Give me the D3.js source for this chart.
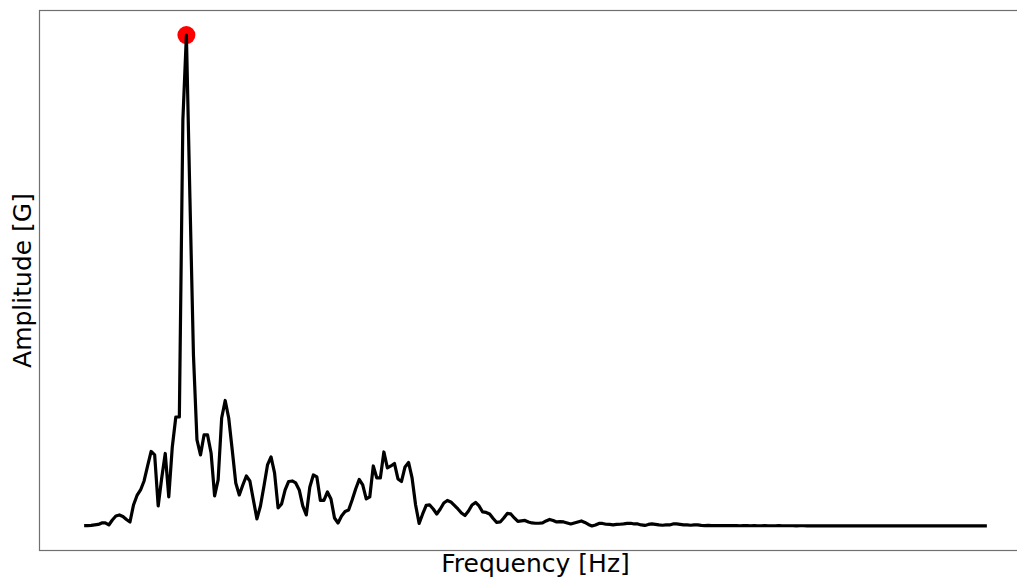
<!DOCTYPE html>
<html>
<head>
<meta charset="utf-8">
<script src="https://cdn.jsdelivr.net/npm/d3@7"></script>
<style>
  html, body { margin: 0; padding: 0; background: #fff; }
  svg { display: block; }
</style>
</head>
<body>
<div id="chart"></div>
<script>
// FFT amplitude per frequency bin (bin index = frequency step)
const amplitude = [
  0.3, 0.3, 0.5, 1, 1.5, 3, 3, 1, 6, 10,
  11, 9.5, 6.5, 4, 21, 30.5, 36, 45, 60, 74.5,
  71, 20, 48, 72.5, 29, 79, 109, 109, 406, 491,
  328, 171, 86, 71, 91, 91, 73, 30, 46, 108,
  125.5, 108, 76, 43, 31, 41, 50, 45, 26, 7,
  20, 40, 61, 69, 53, 18, 22, 36, 44.5, 45,
  43, 36, 20, 11, 39, 51, 49, 25.5, 25.5, 34,
  27, 8, 3, 10, 14.5, 16, 26, 37, 46.5, 41,
  27, 29, 60, 48, 48, 74, 58, 60, 62.5, 47,
  44.5, 59, 63.5, 48, 21, 2.5, 12, 20.5, 21, 17,
  12, 17, 23, 25.5, 24, 20.5, 17, 13, 10.5, 15,
  21, 23.5, 20, 14, 13.5, 12, 7.5, 3.5, 4, 8,
  12.5, 12, 8, 4.5, 5, 5.5, 4, 3, 2.7, 2.7,
  3, 5, 6.5, 5.5, 4, 4.3, 4, 3, 2, 3,
  4, 5, 3.5, 1.5, 0, 1, 2.5, 2.5, 1.7, 1.5,
  1, 1.5, 1.7, 2, 2.5, 2.7, 2, 2, 1, 0.5,
  1.5, 2, 1.5, 1, 0.7, 1, 1, 2, 2, 1.5,
  1, 1, 0.7, 1, 1, 0.5, 0.4, 0.5, 0.4, 0.3,
  0.4, 0.3, 0.3, 0.4, 0.3, 0.3, 0.2, 0.3, 0.3, 0.2,
  0.3, 0.2, 0.2, 0.3, 0.2, 0.2, 0.2, 0.3, 0.2, 0.2,
  0.2, 0.2, 0.1, 0.2, 0.2, 0.1, 0.2, 0.1, 0.1, 0.2,
  0.1, 0.1, 0.1, 0.2, 0.1, 0.1, 0.1, 0.1, 0.1, 0.1,
  0.1, 0.1, 0.1, 0.1, 0.1, 0.1, 0.1, 0.1, 0.1, 0.1,
  0.1, 0.1, 0.1, 0.1, 0.1, 0.1, 0.1, 0.1, 0.1, 0.1,
  0.1, 0.1, 0.1, 0.1, 0.1, 0.1, 0.1, 0.1, 0.1, 0.1,
  0.1, 0.1, 0.1, 0.1, 0.1, 0.1, 0.1
];
const frequency = d3.range(amplitude.length);

const xLabel = 'Frequency [Hz]';
const yLabel = 'Amplitude [G]';

const width = 1017, height = 577;
const plot = { left: 39, right: 1032, top: 10.5, bottom: 550.5 };

// pad the data range by 5% on each side, like matplotlib's default margins
function padded(ext) {
  const pad = (ext[1] - ext[0]) * 0.05;
  return [ext[0] - pad, ext[1] + pad];
}

const svg = d3.select('#chart').append('svg')
  .attr('width', width)
  .attr('height', height);

const x = d3.scaleLinear()
  .domain(padded(d3.extent(frequency)))
  .range([plot.left, plot.right]);

const y = d3.scaleLinear()
  .domain(padded(d3.extent(amplitude)))
  .range([plot.bottom, plot.top]);

const data = frequency.map((f, i) => ({ f, a: amplitude[i] }));
const peak = data[d3.maxIndex(data, d => d.a)];

// peak marker sits under the line
svg.append('circle')
  .attr('cx', x(peak.f))
  .attr('cy', y(peak.a))
  .attr('r', 9)
  .attr('fill', '#ff0000');

const line = d3.line()
  .x(d => x(d.f))
  .y(d => y(d.a));

svg.append('path')
  .datum(data)
  .attr('d', line)
  .attr('fill', 'none')
  .attr('stroke', '#000')
  .attr('stroke-width', 3.2)
  .attr('stroke-linejoin', 'round');

// frame
svg.append('rect')
  .attr('x', plot.left + 0.5)
  .attr('y', plot.top)
  .attr('width', plot.right - plot.left)
  .attr('height', plot.bottom - plot.top)
  .attr('fill', 'none')
  .attr('stroke', '#707070')
  .attr('stroke-width', 1.2);

svg.append('text')
  .attr('x', (plot.left + plot.right) / 2)
  .attr('y', 572)
  .attr('text-anchor', 'middle')
  .attr('font-family', "'DejaVu Sans', sans-serif")
  .attr('font-size', 25)
  .attr('fill', '#000')
  .text(xLabel);

svg.append('text')
  .attr('transform', `translate(31, ${(plot.top + plot.bottom) / 2}) rotate(-90)`)
  .attr('text-anchor', 'middle')
  .attr('font-family', "'DejaVu Sans', sans-serif")
  .attr('font-size', 25)
  .attr('fill', '#000')
  .text(yLabel);
</script>
</body>
</html>
